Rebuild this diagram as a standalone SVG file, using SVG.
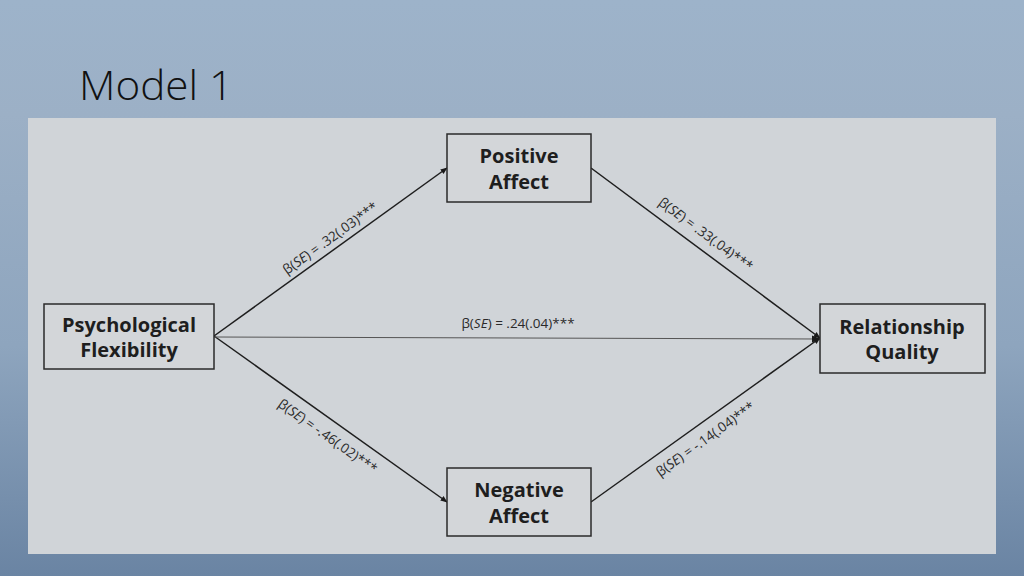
<svg xmlns="http://www.w3.org/2000/svg" width="1024" height="576" viewBox="0 0 1024 576">
  <defs>
    <linearGradient id="bg" x1="0" y1="0" x2="0" y2="1">
      <stop offset="0" stop-color="#9db3ca"/>
      <stop offset="0.2" stop-color="#9cb0c6"/>
      <stop offset="0.6" stop-color="#8ea5be"/>
      <stop offset="1" stop-color="#6a84a3"/>
    </linearGradient>
    <marker id="arr" viewBox="0 0 10 10" refX="9" refY="5" markerWidth="7" markerHeight="7" orient="auto" markerUnits="userSpaceOnUse">
      <path d="M0,1 L10,5 L0,9 z" fill="#1a1a1a"/>
    </marker>
    <marker id="arr2" viewBox="0 0 10 10" refX="9" refY="5" markerWidth="9" markerHeight="9" orient="auto" markerUnits="userSpaceOnUse">
      <path d="M0,1 L10,5 L0,9 z" fill="#1a1a1a"/>
    </marker>
  </defs>
  <style>
    .box { fill: #d3d6d9; stroke: #2a2a2a; stroke-width: 1.5; }
    .lbl { font-family: "Open Sans", "Noto Sans", sans-serif; font-weight: 700; font-size: 20px; fill: #1e1e1e; text-anchor: middle; }
    .edge { stroke: #1e1e1e; stroke-width: 1.5; fill: none; }
    .edge-thin { stroke: #555; stroke-width: 1; fill: none; }
    .coef { font-family: "Open Sans", "Noto Sans", sans-serif; font-size: 13.5px; fill: #2a2a2a; text-anchor: middle; }
    .title { font-family: "Open Sans", "Noto Sans", sans-serif; font-weight: 300; font-size: 40px; fill: #111; }
  </style>
  <rect x="0" y="0" width="1024" height="576" fill="url(#bg)"/>
  <text class="title" x="79" y="100" textLength="154" lengthAdjust="spacingAndGlyphs">Model 1</text>
  <rect x="28" y="118" width="968" height="436" fill="#d0d4d8"/>

  <g id="connectors">
    <line class="edge" x1="214" y1="336" x2="447" y2="168" marker-end="url(#arr)"/>
    <line class="edge" x1="591" y1="168" x2="820" y2="338" marker-end="url(#arr)"/>
    <line class="edge" x1="214" y1="336" x2="447" y2="502" marker-end="url(#arr)"/>
    <line class="edge" x1="591" y1="502" x2="820" y2="338" marker-end="url(#arr)"/>
    <line class="edge-thin" x1="214" y1="337" x2="820" y2="339" marker-end="url(#arr2)"/>
    <text class="coef" transform="translate(333,242) rotate(-35.8)">β(<tspan font-style="italic">SE</tspan>) = .32(.03)***</text>
    <text class="coef" transform="translate(703,238) rotate(36.6)">β(<tspan font-style="italic">SE</tspan>) = .33(.04)***</text>
    <text class="coef" transform="translate(325,440) rotate(35.3)">β(<tspan font-style="italic">SE</tspan>) = -.46(.02)***</text>
    <text class="coef" transform="translate(708,443) rotate(-35.6)">β(<tspan font-style="italic">SE</tspan>) = -.14(.04)***</text>
    <text class="coef" x="518" y="328">β(<tspan font-style="italic">SE</tspan>) = .24(.04)***</text>
  </g>

  <g id="node-pa">
    <rect class="box" x="447" y="134" width="144" height="68"/>
    <text class="lbl" x="519" y="163">Positive</text>
    <text class="lbl" x="519" y="189">Affect</text>
  </g>
  <g id="node-pf">
    <rect class="box" x="44" y="304" width="170" height="65"/>
    <text class="lbl" x="129" y="332">Psychological</text>
    <text class="lbl" x="129" y="357">Flexibility</text>
  </g>
  <g id="node-rq">
    <rect class="box" x="820" y="304" width="165" height="69"/>
    <text class="lbl" x="902" y="334">Relationship</text>
    <text class="lbl" x="902" y="359">Quality</text>
  </g>
  <g id="node-na">
    <rect class="box" x="447" y="468" width="144" height="68"/>
    <text class="lbl" x="519" y="497">Negative</text>
    <text class="lbl" x="519" y="523">Affect</text>
  </g>
</svg>
